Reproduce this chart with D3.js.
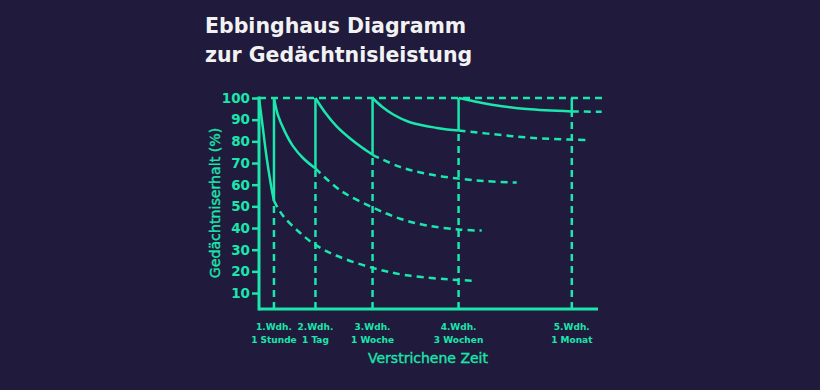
<!DOCTYPE html>
<html>
<head>
<meta charset="utf-8">
<script src="https://cdn.jsdelivr.net/npm/d3@7"></script>
<style>
  html, body { margin: 0; padding: 0; background: #201a3d; }
  svg { display: block; }
</style>
</head>
<body>
<svg id="chart" width="820" height="390"></svg>
<script>
// ---------- data ----------
const titleLines = ["Ebbinghaus Diagramm", "zur Gedächtnisleistung"];
const yAxisTitle = "Gedächtniserhalt (%)";
const xAxisTitle = "Verstrichene Zeit";
const yTicks = [10, 20, 30, 40, 50, 60, 70, 80, 90, 100];

const reviewNames = ["1.Wdh.", "2.Wdh.", "3.Wdh.", "4.Wdh.", "5.Wdh."];
const reviewIntervals = ["1 Stunde", "1 Tag", "1 Woche", "3 Wochen", "1 Monat"];
const reviewTimes = [4.4, 16.6, 33.4, 58.7, 92.0];        // position on time axis (relative units)
const reviewRetention = [52.5, 67.5, 73.8, 85.0, 93.8];   // % retained at each review

// forgetting curves: [time, retention %]
const curve0Solid  = [[0, 100], [0.95, 88.5], [2.2, 73], [3.5, 60], [4.4, 52.5]];
const curve0Dashed = [[4.4, 52.5], [7.15, 45.5], [12.06, 37.8], [16.6, 32.2], [22.85, 27.2], [33.4, 21.6], [43.4, 18.2], [58.7, 16], [63.0, 15.7]];
const curve1Solid  = [[4.4, 100], [5.6, 92], [7.6, 84.5], [10.0, 77.8], [13.0, 72.2], [16.6, 67.5]];
const curve1Dashed = [[16.6, 67.5], [23.8, 57.5], [33.4, 49.5], [41.5, 44.3], [49.3, 41.2], [58.7, 39.3], [65.5, 38.8]];
const curve2Solid  = [[16.6, 100], [19.5, 93.2], [22.9, 86.8], [26.9, 81.2], [30.4, 77.0], [33.4, 73.8]];
const curve2Dashed = [[33.4, 73.8], [41.5, 68.2], [49.3, 65.0], [58.7, 62.8], [67.0, 61.6], [75.8, 61]];
const curve3Solid  = [[33.4, 100], [36.2, 96.0], [39.5, 92.4], [44.4, 88.8], [52.3, 86.2], [58.7, 85]];
const curve3Dashed = [[58.7, 85], [73.8, 82.5], [82.6, 81.4], [92.0, 80.8], [96.9, 80.6]];
const curve4Solid  = [[58.7, 100], [63.5, 98.4], [69.0, 96.8], [78.8, 94.9], [92.0, 93.8]];
const curve4Dashed = [[92.0, 93.8], [100.8, 93.6]];
const fullRetentionLine = [[0, 100], [101.2, 100]];

// ---------- layout / style ----------
const TEAL = "#1be6ac";
const BG = "#201a3d";
const TITLE = "#f2f2f2";
const axisY = 309;
const DASH = "7,5";

const svg = d3.select("#chart");
svg.append("rect").attr("width", 820).attr("height", 390).attr("fill", BG);

const x = d3.scaleLinear().domain([0, 100]).range([259, 599]);
const y = d3.scaleLinear().domain([0, 100]).range([314.7, 98]);

const line = d3.line().x(d => x(d[0])).y(d => y(d[1])).curve(d3.curveCatmullRom.alpha(0.5));

// title
svg.append("g").selectAll("text").data(titleLines).join("text")
  .attr("x", 205).attr("y", (d, i) => 33 + i * 29)
  .attr("fill", TITLE)
  .attr("font-family", "DejaVu Sans, sans-serif")
  .attr("font-weight", "bold")
  .attr("font-size", 20.5)
  .text(d => d);

// y axis ticks + labels
const yAxis = d3.axisLeft(y).tickValues(yTicks).tickSize(7).tickPadding(2);
const gy = svg.append("g").attr("transform", `translate(${x(0)},0)`).call(yAxis);
gy.select(".domain").remove();
gy.selectAll(".tick line").attr("stroke", TEAL).attr("stroke-width", 2.5);
gy.selectAll(".tick text")
  .attr("fill", TEAL)
  .attr("font-family", "DejaVu Sans, sans-serif")
  .attr("font-weight", "bold")
  .attr("font-size", 13.5);

// axis lines
svg.append("line")
  .attr("x1", x(0)).attr("x2", x(0))
  .attr("y1", y(100) - 1.5).attr("y2", axisY + 1.5)
  .attr("stroke", TEAL).attr("stroke-width", 3);
svg.append("line")
  .attr("x1", x(0)).attr("x2", x(100) - 1)
  .attr("y1", axisY).attr("y2", axisY)
  .attr("stroke", TEAL).attr("stroke-width", 3);

// 100% dashed line
svg.append("path").datum(fullRetentionLine)
  .attr("d", d3.line().x(d => x(d[0])).y(d => y(d[1])))
  .attr("fill", "none").attr("stroke", TEAL).attr("stroke-width", 2.5)
  .attr("stroke-dasharray", DASH);

// review verticals: dashed below, solid above
const reviews = reviewTimes.map((t, i) => ({ t, r: reviewRetention[i], name: reviewNames[i], interval: reviewIntervals[i] }));
svg.append("g").selectAll("line").data(reviews).join("line")
  .attr("x1", d => x(d.t)).attr("x2", d => x(d.t))
  .attr("y1", axisY).attr("y2", d => y(d.r))
  .attr("stroke", TEAL).attr("stroke-width", 2.5)
  .attr("stroke-dasharray", DASH);
svg.append("g").selectAll("line").data(reviews).join("line")
  .attr("x1", d => x(d.t)).attr("x2", d => x(d.t))
  .attr("y1", d => y(d.r)).attr("y2", y(100))
  .attr("stroke", TEAL).attr("stroke-width", 2.5);

// curves
const solids = [curve0Solid, curve1Solid, curve2Solid, curve3Solid, curve4Solid];
const dasheds = [curve0Dashed, curve1Dashed, curve2Dashed, curve3Dashed, curve4Dashed];
svg.append("g").selectAll("path").data(dasheds).join("path")
  .attr("d", line).attr("fill", "none")
  .attr("stroke", TEAL).attr("stroke-width", 2.5).attr("stroke-dasharray", DASH);
svg.append("g").selectAll("path").data(solids).join("path")
  .attr("d", line).attr("fill", "none")
  .attr("stroke", TEAL).attr("stroke-width", 2.5);

// x labels
const xl = svg.append("g").selectAll("text").data(reviews).join("text")
  .attr("text-anchor", "middle")
  .attr("fill", TEAL)
  .attr("font-family", "DejaVu Sans, sans-serif")
  .attr("font-weight", "bold")
  .attr("font-size", 9);
xl.append("tspan").attr("x", d => x(d.t)).attr("y", 330).text(d => d.name);
xl.append("tspan").attr("x", d => x(d.t)).attr("y", 343).text(d => d.interval);

// axis titles
svg.append("text")
  .attr("x", 428).attr("y", 363)
  .attr("text-anchor", "middle")
  .attr("fill", TEAL)
  .attr("stroke", TEAL).attr("stroke-width", 0.35)
  .attr("font-family", "DejaVu Sans, sans-serif")
  .attr("font-size", 14)
  .text(xAxisTitle);

svg.append("text")
  .attr("transform", "translate(220,203) rotate(-90)")
  .attr("text-anchor", "middle")
  .attr("fill", TEAL)
  .attr("stroke", TEAL).attr("stroke-width", 0.35)
  .attr("font-family", "DejaVu Sans, sans-serif")
  .attr("font-size", 14.2)
  .text(yAxisTitle);
</script>
</body>
</html>
